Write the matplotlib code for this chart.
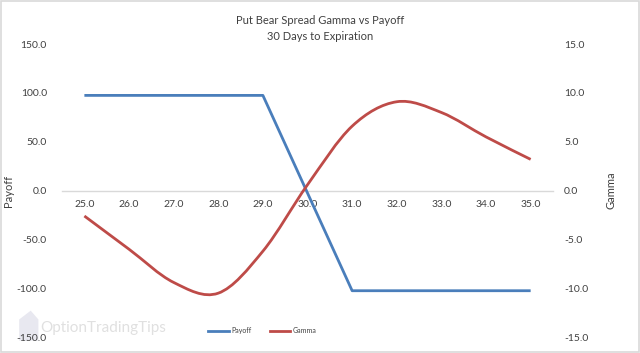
import matplotlib
matplotlib.use("Agg")
import matplotlib.pyplot as plt
from matplotlib.path import Path
from matplotlib.patches import PathPatch, Rectangle, Polygon
from matplotlib.lines import Line2D
import numpy as np

plt.rcParams['font.family'] = ['Lato', 'DejaVu Sans']

strikes = ["25.0", "26.0", "27.0", "28.0", "29.0", "30.0", "31.0", "32.0", "33.0", "34.0", "35.0"]
payoff = [97.5, 97.5, 97.5, 97.5, 97.5, -2.5, -102.5, -102.5, -102.5, -102.5, -102.5]
gamma = [-2.6, -6.0, -9.4, -10.5, -6.2, 0.6, 6.6, 9.1, 8.0, 5.5, 3.2]
left_ticks = [-150, -100, -50, 0, 50, 100, 150]
right_ticks = [-15, -10, -5, 0, 5, 10, 15]

BLUE = "#4A7EBB"
RED = "#BE4B48"
TXT = "#404040"

fig = plt.figure(figsize=(6.4, 3.53), dpi=100)
fig.patch.set_facecolor("white")
fig.add_artist(Rectangle((0.0015, 0.002), 0.997, 0.995, transform=fig.transFigure,
                         fill=False, edgecolor="#D9D9D9", linewidth=1.2))

# watermark (logo + text)
fig.add_artist(Polygon([(0.030, 0.035), (0.030, 0.095), (0.048, 0.120), (0.060, 0.095),
                        (0.060, 0.035)], closed=True, transform=fig.transFigure,
                       facecolor="#E8E8F0", edgecolor="none", zorder=0))
fig.text(0.063, 0.072, "OptionTradingTips", ha="left", va="center", fontsize=11,
         color="#E0E0E0", zorder=0)

ax = fig.add_axes([0.097, 0.045, 0.767, 0.830])
ax.patch.set_alpha(0)
ax2 = ax.twinx()

x = np.arange(len(strikes))
ax.plot(x, payoff, color=BLUE, linewidth=2.0, solid_capstyle="butt", zorder=3)

# smooth curve through gamma points (Excel-style smoothed line)
pts = np.column_stack([x, gamma]).astype(float)
verts = [tuple(pts[0])]
codes = [Path.MOVETO]
n = len(pts)
for i in range(n - 1):
    p0 = pts[i - 1] if i > 0 else pts[i]
    p1 = pts[i]
    p2 = pts[i + 1]
    p3 = pts[i + 2] if i + 2 < n else pts[i + 1]
    c1 = p1 + (p2 - p0) / 6.0
    c2 = p2 - (p3 - p1) / 6.0
    verts += [tuple(c1), tuple(c2), tuple(p2)]
    codes += [Path.CURVE4] * 3
ax2.add_patch(PathPatch(Path(verts, codes), facecolor="none", edgecolor=RED,
                        linewidth=2.0, zorder=3))

ax.set_xlim(-0.5, len(strikes) - 0.5)
ax.set_ylim(-150, 150)
ax2.set_ylim(-15, 15)
ax.set_yticks(left_ticks)
ax.set_yticklabels([f"{v:.1f}" for v in left_ticks])
ax2.set_yticks(right_ticks)
ax2.set_yticklabels([f"{v:.1f}" for v in right_ticks])
ax.set_xticks(x)
ax.set_xticklabels(strikes)

for a in (ax, ax2):
    for s in ("top", "left", "right", "bottom"):
        a.spines[s].set_visible(False)
ax.spines["bottom"].set_visible(True)
ax.spines["bottom"].set_position(("data", 0))
ax.spines["bottom"].set_color("#D9D9D9")
ax.spines["bottom"].set_linewidth(1.0)

ax.tick_params(axis="x", length=0, pad=7, labelsize=7.5, labelcolor=TXT)
ax.tick_params(axis="y", length=0, pad=11, labelsize=7.5, labelcolor=TXT)
ax2.tick_params(axis="y", length=0, pad=8, labelsize=7.5, labelcolor=TXT)

ax.set_ylabel("Payoff", fontsize=8, color=TXT)
ax2.set_ylabel("Gamma", fontsize=8, color=TXT)
ax.yaxis.set_label_coords(-0.098, 0.5)
ax2.yaxis.set_label_coords(1.107, 0.5)

fig.text(0.5, 0.943, "Put Bear Spread Gamma vs Payoff", ha="center", va="center",
         fontsize=8, color=TXT)
fig.text(0.5, 0.897, "30 Days to Expiration", ha="center", va="center",
         fontsize=8, color=TXT)

handles = [Line2D([], [], color=BLUE, linewidth=2.0),
           Line2D([], [], color=RED, linewidth=2.0)]
fig.legend(handles, ["Payoff", "Gamma"], loc="center", bbox_to_anchor=(0.41, 0.063),
           ncol=2, frameon=False, fontsize=5, handlelength=3.0, columnspacing=2.6,
           handletextpad=0.3, labelcolor=TXT)

fig.savefig("out.png", dpi=100, facecolor="white")
